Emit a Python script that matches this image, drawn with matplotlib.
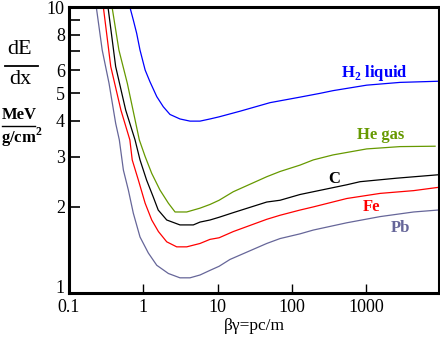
import matplotlib
matplotlib.use("Agg")
import matplotlib.pyplot as plt
from matplotlib.lines import Line2D

plt.rcParams['font.family'] = ['Liberation Serif', 'DejaVu Serif']
plt.rcParams['mathtext.fontset'] = 'custom'
plt.rcParams['mathtext.rm'] = 'Liberation Serif'
plt.rcParams['mathtext.bf'] = 'Liberation Serif:bold'

# values (beta*gamma, dE/dx in MeV g^-1 cm^2)
h2_x = [0.66, 0.735, 0.815, 0.904, 1.06, 1.23, 1.52, 1.86, 2.29, 3.12, 4.26, 5.81, 7.92, 10.5, 20,
        51, 129, 240, 360, 1020, 2870, 9300]
h2_y = [10, 9.0, 8.09, 7.07, 6.02, 5.48, 4.86, 4.48, 4.21, 4.06, 3.99, 3.99, 4.06, 4.13, 4.32,
        4.63, 4.84, 4.99, 5.10, 5.33, 5.45, 5.50]

he_x = [0.38, 0.47, 0.61, 0.885, 1.06, 1.30, 1.68, 2.18, 2.68, 3.85, 5.81, 7.92, 10.5, 16.3, 46,
        69.5, 129, 195, 360, 1020, 2870, 8500]
he_y = [10, 7.07, 5.41, 3.43, 3.0, 2.62, 2.29, 2.06, 1.92, 1.92, 1.98, 2.04, 2.11, 2.26, 2.55,
        2.66, 2.80, 2.92, 3.04, 3.19, 3.25, 3.26]

c_x = [0.335, 0.425, 0.58, 0.775, 0.904, 1.11, 1.36, 1.59, 2.07, 3.12, 4.72, 5.81, 7.92, 10.5, 16.3,
       46, 69.5, 129, 195, 550, 830, 2570, 9300]
c_y = [10, 6.19, 4.36, 3.43, 2.92, 2.48, 2.17, 1.95, 1.80, 1.73, 1.73, 1.77, 1.80, 1.84, 1.91,
       2.08, 2.11, 2.21, 2.26, 2.39, 2.45, 2.52, 2.59]

fe_x = [0.29, 0.365, 0.50, 0.66, 0.71, 0.86, 1.06, 1.30, 1.60, 2.07, 2.82, 3.85, 5.81, 7.92, 10.5,
        16.3, 46, 69.5, 129, 195, 550, 1550, 4370, 9300]
fe_y = [10, 6.19, 4.36, 3.43, 2.92, 2.48, 2.06, 1.80, 1.64, 1.51, 1.45, 1.45, 1.49, 1.54, 1.56,
        1.64, 1.81, 1.87, 1.95, 2.00, 2.14, 2.23, 2.28, 2.34]

pb_x = [0.233, 0.28, 0.346, 0.425, 0.476, 0.54, 0.63, 0.735, 0.904, 1.17, 1.52, 2.18, 3.12, 4.26,
        5.81, 7.92, 10.5, 14.7, 46, 69.5, 129, 195, 550, 1550, 4370, 9300]
pb_y = [10, 7.07, 5.41, 3.92, 3.43, 2.69, 2.29, 1.90, 1.57, 1.38, 1.25, 1.17, 1.13, 1.13,
        1.156, 1.20, 1.24, 1.31, 1.49, 1.55, 1.61, 1.66, 1.76, 1.85, 1.92, 1.95]

x_ticks = [0.1, 1, 10, 100, 1000]
x_labels = ['0.1', '1', '10', '100', '1000']
y_ticks = [1, 2, 3, 4, 5, 6, 7, 8, 9, 10]
y_labels = ['1', '2', '3', '4', '5', '6', '', '8', '', '10']

series = [
    (h2_x, h2_y, '#0000ff', 'H$_{\\mathbf{2}}$ liquid', 1280, 5.88),
    (he_x, he_y, '#669900', 'He gas', 1550, 3.57),
    (c_x, c_y, '#000000', 'C', 371, 2.51),
    (fe_x, fe_y, '#ff0000', 'Fe', 1200, 2.0),
    (pb_x, pb_y, '#666699', 'Pb', 2870, 1.69),
]

fig = plt.figure(figsize=(4.4, 3.38), dpi=100)
ax = fig.add_axes([69 / 440, 45 / 338, 370 / 440, 286 / 338])

for xs, ys, col, lab, tx, ty in series:
    ax.plot(xs, ys, color=col, lw=0.9)
    ax.text(tx, ty, lab, color=col, fontsize=12, fontweight='bold',
            ha='center', va='center')

ax.set_xscale('log')
ax.set_yscale('log')
ax.set_xlim(0.1, 9600)
ax.set_ylim(1, 10)

ax.set_xticks(x_ticks)
ax.set_xticklabels(x_labels)
ax.set_xticks([], minor=True)
ax.set_yticks(y_ticks)
ax.set_yticklabels(y_labels)
ax.set_yticks([], minor=True)
ax.tick_params(axis='y', direction='in', length=8, width=1.2, pad=3, labelsize=13)
ax.tick_params(axis='x', direction='in', length=6.5, width=1.0, pad=4, labelsize=13)
ax.get_yticklabels()[0].set_va('baseline')
for s in ax.spines.values():
    s.set_linewidth(2.2)

ax.set_xlabel('βγ=pc/m', fontsize=12.5, labelpad=2)

# y-axis label as two stacked fractions
fig.text(20 / 440, 1 - 50 / 338, 'dE', fontsize=16, ha='center', va='center')
fig.text(20 / 440, 1 - 80 / 338, 'dx', fontsize=16, ha='center', va='center')
fig.add_artist(Line2D([5 / 440, 38 / 440], [1 - 66 / 338] * 2, color='black', lw=1.3))
fig.text(19 / 440, 1 - 115 / 338, 'MeV', fontsize=12, fontweight='bold', ha='center', va='center')
fig.text(22 / 440, 1 - 137 / 338, 'g/cm$^{\\mathbf{2}}$', fontsize=12, fontweight='bold',
         ha='center', va='center')
fig.add_artist(Line2D([2 / 440, 35 / 440], [1 - 126 / 338] * 2, color='black', lw=1.0))

fig.savefig('out.png', dpi=100)
